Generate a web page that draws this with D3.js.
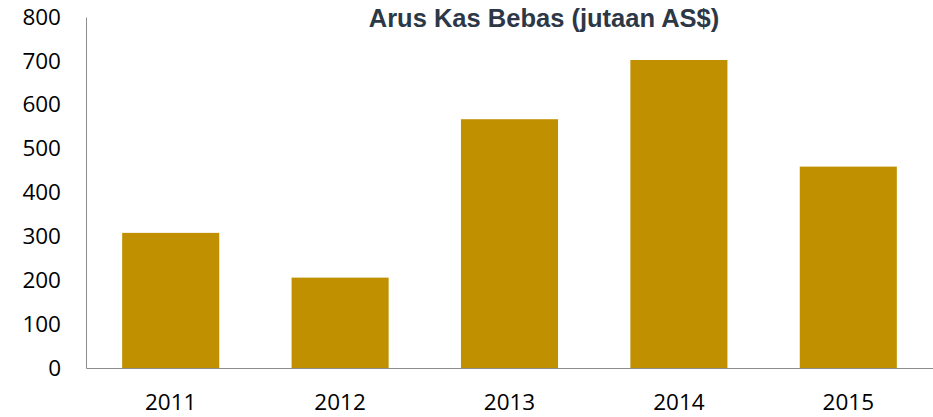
<!DOCTYPE html>
<html>
<head>
<meta charset="utf-8">
<script src="https://cdn.jsdelivr.net/npm/d3@7"></script>
<style>
  body { margin: 0; background: #fff; }
  svg { display: block; }
</style>
</head>
<body>
<svg width="933" height="417"></svg>
<script>
'use strict';

// data
var years = ['2011', '2012', '2013', '2014', '2015'];
var cashflow = [308, 206, 567, 702, 459];
var yTicks = [0, 100, 200, 300, 400, 500, 600, 700, 800];
var title = 'Arus Kas Bebas (jutaan AS$)';

var svg = d3.select('svg');

var x = d3.scaleBand()
	.domain(years)
	.range([86, 933])
	.paddingInner(0.427)
	.paddingOuter(0.2135);

var y = d3.scaleLinear()
	.domain([0, 800])
	.range([368, 17]);

// bars
svg.selectAll('rect.bar')
	.data(years)
	.enter()
	.append('rect')
		.attr('class', 'bar')
		.attr('x', d => x(d))
		.attr('width', x.bandwidth())
		.attr('y', (d, i) => y(cashflow[i]))
		.attr('height', (d, i) => y(0) - y(cashflow[i]))
		.attr('fill', '#c09000');

// y axis
var yAxis = svg.append('g')
	.attr('transform', 'translate(86,0)')
	.call(d3.axisLeft(y).tickValues(yTicks).tickSize(0).tickPadding(25));
yAxis.select('.domain').attr('stroke', '#8c8c8c').attr('stroke-width', 1);
yAxis.selectAll('text')
	.attr('font-family', '"Open Sans", sans-serif')
	.attr('font-size', '22.5px')
	.attr('fill', '#000');

// x axis
var xAxis = svg.append('g')
	.attr('transform', 'translate(0,' + y(0) + ')')
	.call(d3.axisBottom(x).tickSize(0).tickPadding(26));
xAxis.select('.domain').attr('stroke', '#8c8c8c').attr('stroke-width', 1);
xAxis.selectAll('text')
	.attr('font-family', '"Open Sans", sans-serif')
	.attr('font-size', '22.5px')
	.attr('fill', '#000');

// title
svg.append('text')
	.attr('x', 544)
	.attr('y', 27)
	.attr('text-anchor', 'middle')
	.attr('font-family', '"Liberation Sans", Arial, sans-serif')
	.attr('font-weight', 'bold')
	.attr('font-size', '25.5px')
	.attr('fill', '#2d3847')
	.text(title);
</script>
</body>
</html>
